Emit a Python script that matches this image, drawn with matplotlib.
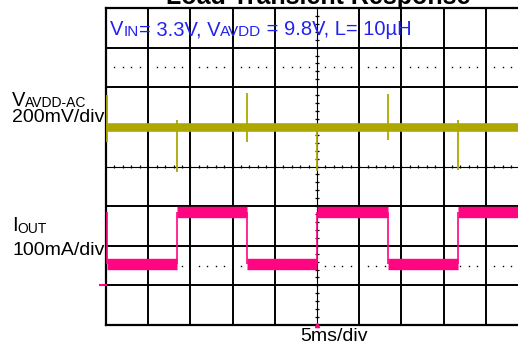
import numpy as np
import matplotlib.pyplot as plt

plt.rcParams['font.family'] = ['Liberation Sans', 'DejaVu Sans']

# scope settings: 5 ms/div, VAVDD 200 mV/div (ac), IOUT 100 mA/div
t_edge = [0.1, 8.4, 16.75, 25.05, 33.4, 41.75]   # ms, load steps
spike_hi = [159, 33, 169, 8, 164, 33]            # mV, peak above baseline
spike_lo = [-78, -230, -78, -225, -68, -220]     # mV, dip below baseline
v_base = 0                                       # mV
i_start = 185                                    # mA
i_level = [53, 185, 53, 185, 53, 185]            # mA after each step
t_end = 50

yellow = '#aca800'
pink = '#ff0582'
blue = '#2222ee'

W, H = 518, 344
fig = plt.figure(figsize=(W / 100, H / 100), dpi=100)
ax = fig.add_axes([106 / W, 19 / H, 422 / W, 317 / H])
ax.set_xlim(0, 50)
ax.set_ylim(-1000, 600)
ax.set_xticks([])
ax.set_yticks([])
for s in ax.spines.values():
    s.set_linewidth(1.6)

# graticule
for x in range(5, 50, 5):
    if x != 25:
        ax.axvline(x, color='k', lw=1.4, zorder=1)
for y in range(-800, 600, 200):
    if y != -200:
        ax.axhline(y, color='k', lw=1.4, zorder=1)
ax.axvline(25, color='k', lw=0.8, zorder=1)
ax.axhline(-200, color='k', lw=0.8, zorder=1)
tx = np.arange(1, 50, 1)
ax.vlines(tx, -210, -190, color='k', lw=0.9, zorder=1)
ty = np.arange(-960, 600, 40)
ax.hlines(ty, 24.75, 25.25, color='k', lw=0.9, zorder=1)
dots = [t for t in tx if t % 5 != 0]
for y in [300, -700]:
    ax.plot(dots, [y] * len(dots), 's', ms=1.0, mew=0, color='k', zorder=1)

# VAVDD ac trace
ax.hlines(v_base, 0, t_end, color=yellow, lw=6.2, zorder=3)
ax.vlines(t_edge, spike_lo, spike_hi, color=yellow, lw=1.3, zorder=3)

# IOUT trace
ax2 = ax.twinx()
ax2.set_ylim(-100, 700)
ax2.set_yticks([])
for s in ax2.spines.values():
    s.set_visible(False)
seg_end = t_edge[1:] + [t_end]
prev = [i_start] + i_level[:-1]
ax2.hlines(i_level, t_edge, seg_end, color=pink, lw=8.2, zorder=3)
ax2.vlines(t_edge, prev, i_level, color=pink, lw=1.2, zorder=3)
ax2.plot([-0.75, 0], [0, 0], color=pink, lw=1.5, clip_on=False)
ax2.plot([t_edge[3]], [-100], marker='^', ms=3, color=pink, clip_on=False)

# labels (pixel positions, baseline)
renderer = fig.canvas.get_renderer()


def rich(x, y, parts, **kw):
    for s, size, dy in parts:
        t = fig.text(x / W, 1 - (y + dy) / H, s, fontsize=size, va='baseline', **kw)
        x = t.get_window_extent(renderer).x1


fig.text(318 / W, 1 - 4 / H, 'Load Transient Response', ha='center', va='baseline',
         fontsize=18, fontweight='bold')
rich(110, 35, [('V', 14.5, 0), ('IN', 11, 1.5), ('= 3.3V, V', 14.5, 0),
               ('AVDD', 11, 1.5), (' = 9.8V, L= 10µH', 14.5, 0)], color=blue)
rich(12, 106, [('V', 14.5, 0), ('AVDD-AC', 10, 1)])
rich(12, 122, [('200mV/div', 14, 0)])
rich(12, 231, [('I', 14.5, 0), ('OUT', 10, 2)])
rich(12, 255, [('100mA/div', 14, 0)])
rich(300, 341, [('5ms/div', 14, 0)])

fig.savefig('out.png', dpi=100)
